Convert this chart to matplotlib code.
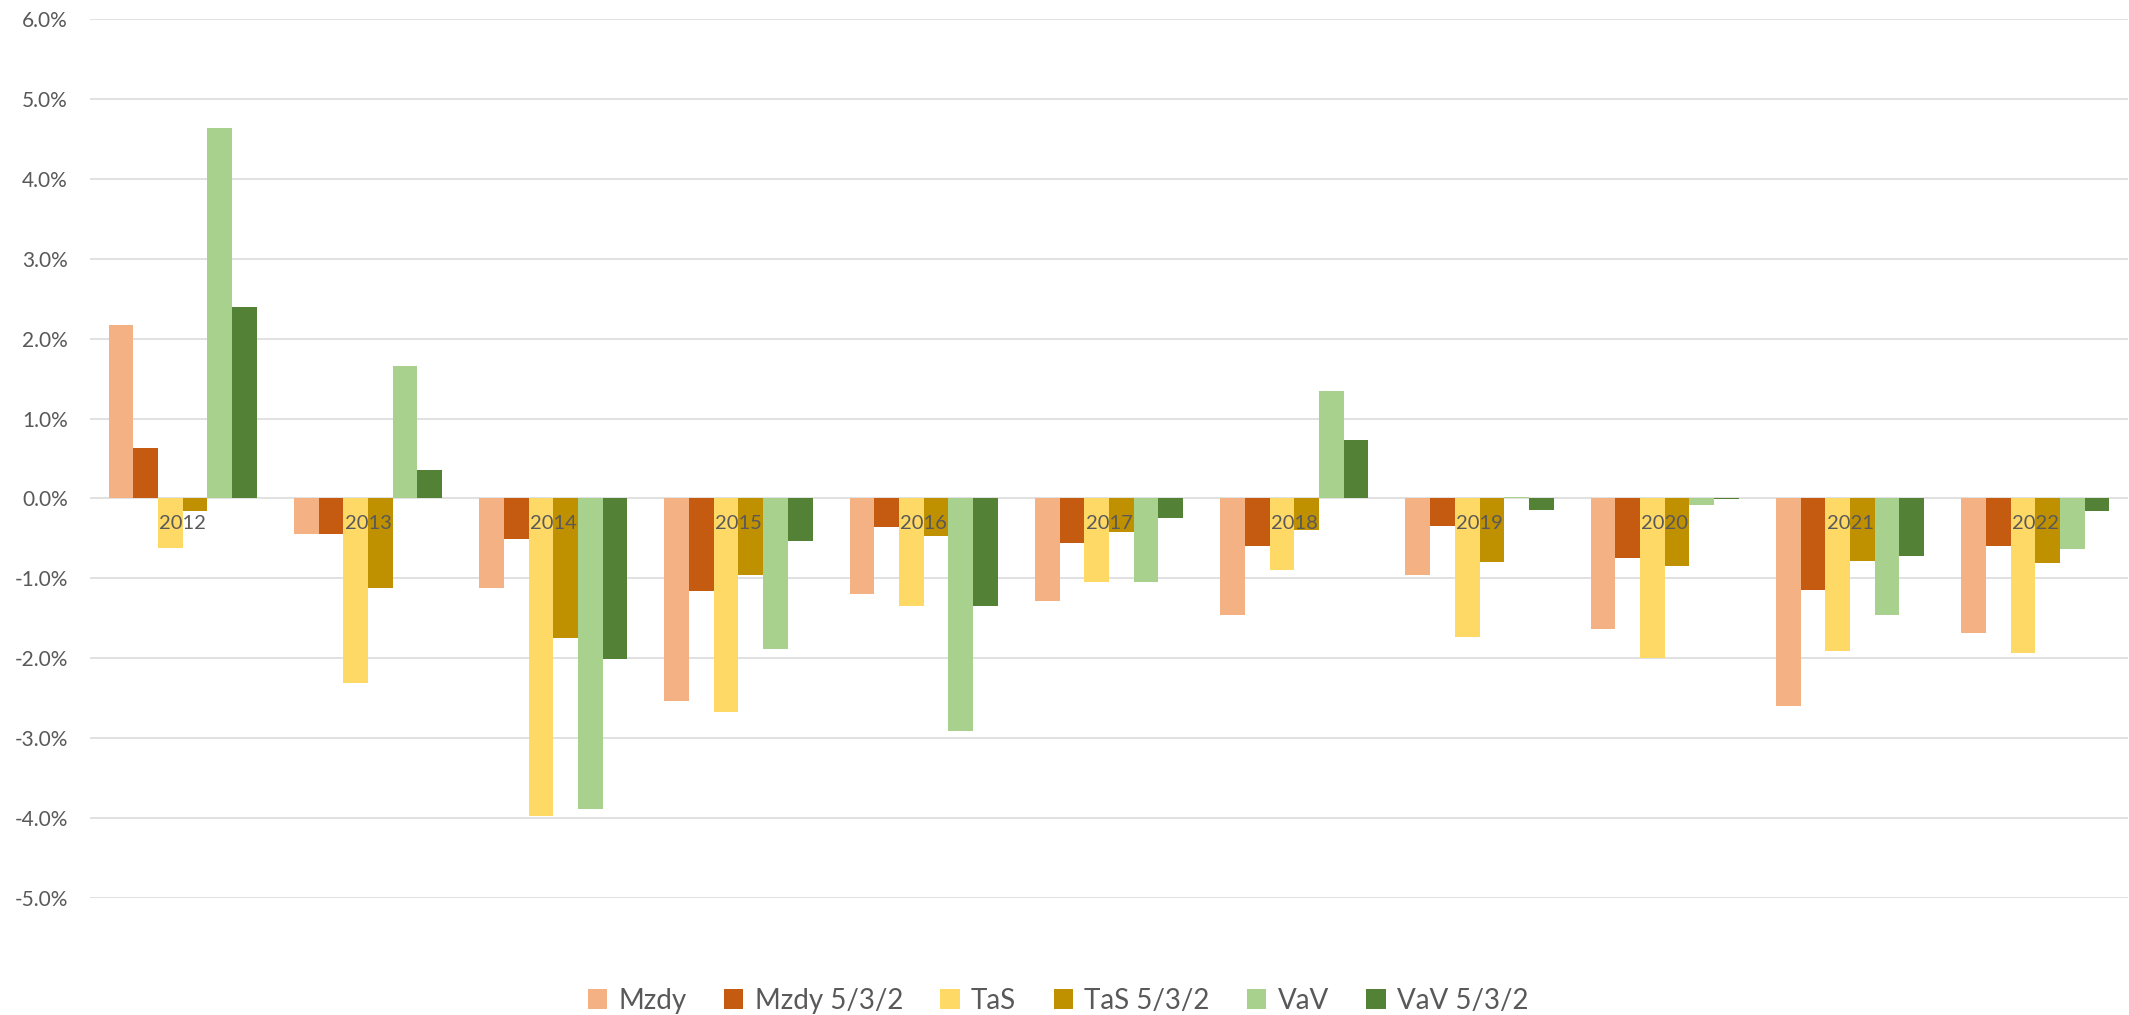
import matplotlib.pyplot as plt
import numpy as np
from matplotlib.ticker import PercentFormatter

plt.rcParams['font.family'] = ['Lato', 'DejaVu Sans']
plt.rcParams['axes.unicode_minus'] = False

# data (percent)
years = ['2012', '2013', '2014', '2015', '2016', '2017', '2018', '2019', '2020', '2021', '2022']
series = ['Mzdy', 'Mzdy 5/3/2', 'TaS', 'TaS 5/3/2', 'VaV', 'VaV 5/3/2']
mzdy = [2.17, -0.44, -1.12, -2.53, -1.20, -1.28, -1.46, -0.96, -1.63, -2.60, -1.68]
mzdy_532 = [0.63, -0.44, -0.51, -1.16, -0.36, -0.56, -0.60, -0.35, -0.74, -1.14, -0.60]
tas = [-0.62, -2.31, -3.98, -2.67, -1.35, -1.05, -0.90, -1.73, -2.00, -1.91, -1.93]
tas_532 = [-0.16, -1.12, -1.75, -0.96, -0.47, -0.42, -0.39, -0.79, -0.85, -0.78, -0.81]
vav = [4.63, 1.66, -3.89, -1.88, -2.91, -1.05, 1.34, 0.02, -0.08, -1.46, -0.63]
vav_532 = [2.39, 0.36, -2.01, -0.53, -1.34, -0.24, 0.73, -0.14, -0.01, -0.72, -0.16]
colors = ['#F4B183', '#C55A11', '#FFD966', '#BF9000', '#A9D18E', '#538135']

values = [mzdy, mzdy_532, tas, tas_532, vav, vav_532]

fig = plt.figure(figsize=(21.29, 10.15), dpi=100)
ax = fig.add_axes([0.0423, 0.1153, 0.9572, 0.866])

x = np.arange(len(years))
w = 0.8 / len(series)
for i, (name, vals, c) in enumerate(zip(series, values, colors)):
    ax.bar(x + (i - 2.5) * w, vals, width=w, color=c, label=name, zorder=2)

ax.set_xlim(-0.5, len(years) - 0.5)
ax.set_ylim(-5, 6)
ax.set_yticks(np.arange(-5, 7, 1))
ax.yaxis.set_major_formatter(PercentFormatter(decimals=1))
ax.grid(axis='y', color='#D9D9D9', linewidth=1.1)
ax.set_axisbelow(True)

ax.set_xticks(x, years)
ax.spines['bottom'].set_position(('data', 0))
for s in ax.spines.values():
    s.set_visible(False)
ax.tick_params(axis='y', length=0, pad=16, labelsize=15, labelcolor='#595959')
ax.tick_params(axis='x', length=0, pad=12, labelsize=14.5, labelcolor='#595959')
ax.xaxis.set_zorder(5)

ax.legend(loc='center', bbox_to_anchor=(0.497, 0.014), bbox_transform=fig.transFigure,
          ncol=6, frameon=False, fontsize=20, labelcolor='#595959',
          handlelength=0.7, handleheight=0.7, handletextpad=0.4, columnspacing=1.35)

plt.savefig('out.png', dpi=100)
